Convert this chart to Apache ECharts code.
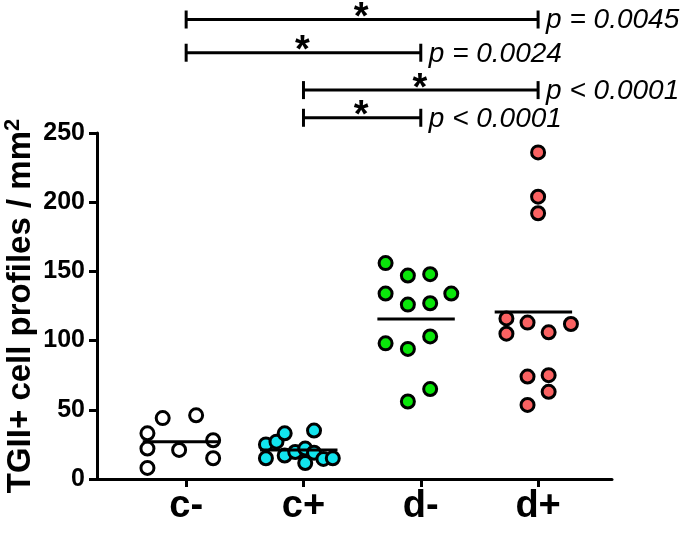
<!DOCTYPE html>
<html>
<head>
<meta charset="utf-8">
<script src="https://cdn.jsdelivr.net/npm/echarts@6/dist/echarts.min.js"></script>
<style>html,body{margin:0;padding:0;background:#fff}#c{width:685px;height:535px}</style>
</head>
<body>
<div id="c"></div>
<script>
// ---- data ----
const categories = ['c-', 'c+', 'd-', 'd+'];
const yTicks = [0, 50, 100, 150, 200, 250];
const cMinusValues = [33, 22, 8, 44, 21, 46, 28, 15];
const cMinusJitter = [-0.33, -0.33, -0.33, -0.20, -0.06, 0.085, 0.23, 0.23];
const cPlusValues = [25, 15, 27, 33, 17, 19.5, 22, 11.5, 35, 19, 14.5, 15];
const cPlusJitter = [-0.32, -0.32, -0.23, -0.16, -0.16, -0.07, 0.015, 0.015, 0.09, 0.09, 0.17, 0.25];
const dMinusValues = [156, 147, 148, 134, 126, 127, 134, 98, 94, 103, 56, 65];
const dMinusJitter = [-0.30, -0.11, 0.08, -0.30, -0.11, 0.08, 0.26, -0.30, -0.11, 0.08, -0.11, 0.08];
const dPlusValues = [236, 204, 192, 116, 105, 113, 106, 112, 74, 75, 63, 53.5];
const dPlusJitter = [0, 0, 0, -0.27, -0.27, -0.09, 0.09, 0.28, -0.09, 0.09, 0.09, -0.09];
const meanValues = [27, 21, 115.6, 120.7];
const sigFrom = [1, 1, 2, 2];
const sigTo = [4, 3, 4, 3];
const sigLevel = [332, 308, 281, 261];
const sigText = ['p = 0.0045', 'p = 0.0024', 'p < 0.0001', 'p < 0.0001'];

// ---- styles ----
const FONT = '"Liberation Sans", Arial, sans-serif';
const groupColors = ['#ffffff', '#12e4ee', '#0ae60a', '#fa6262'];
const groups = [
  [cMinusValues, cMinusJitter],
  [cPlusValues, cPlusJitter],
  [dMinusValues, dMinusJitter],
  [dPlusValues, dPlusJitter]
];
const lineSpan = [-0.37, 0.29];

const chart = echarts.init(document.getElementById('c'), null, {renderer: 'canvas'});

const scatterSeries = groups.map((g, gi) => ({
  type: 'scatter',
  name: categories[gi],
  symbol: 'circle',
  symbolSize: 13,
  z: 2,
  itemStyle: {color: groupColors[gi], borderColor: '#000', borderWidth: 3, opacity: 1},
  emphasis: {disabled: true},
  data: g[0].map((v, i) => [gi + 1 + g[1][i], v])
}));

const meanSeries = {
  type: 'custom',
  z: 5,
  clip: false,
  data: meanValues.map((v, i) => [i + 1, v]),
  renderItem: function (params, api) {
    const x = api.value(0), y = api.value(1);
    const a = api.coord([x + lineSpan[0], y]);
    const b = api.coord([x + lineSpan[1], y]);
    return {type: 'line', shape: {x1: a[0], y1: a[1], x2: b[0], y2: b[1]},
      style: {stroke: '#000', lineWidth: 3}};
  }
};

const sigSeries = {
  type: 'custom',
  z: 5,
  clip: false,
  data: sigFrom.map((f, i) => [f, sigTo[i], sigLevel[i]]),
  renderItem: function (params, api) {
    const i = params.dataIndex;
    const p1 = api.coord([api.value(0), api.value(2)]);
    const p2 = api.coord([api.value(1), api.value(2)]);
    const cap = 9;
    const st = {stroke: '#000', lineWidth: 3};
    return {type: 'group', children: [
      {type: 'line', shape: {x1: p1[0], y1: p1[1], x2: p2[0], y2: p2[1]}, style: st},
      {type: 'line', shape: {x1: p1[0], y1: p1[1] - cap, x2: p1[0], y2: p1[1] + cap}, style: st},
      {type: 'line', shape: {x1: p2[0], y1: p2[1] - cap, x2: p2[0], y2: p2[1] + cap}, style: st},
      {type: 'text', x: (p1[0] + p2[0]) / 2 - 1, y: p1[1] - 20,
        style: {text: '*', font: 'bold 38px ' + FONT, fill: '#000', align: 'center', verticalAlign: 'top'}},
      {type: 'text', x: p2[0] + 8, y: p1[1] + 1,
        style: {text: sigText[i], font: 'italic 28px ' + FONT, fill: '#000', align: 'left', verticalAlign: 'middle'}}
    ]};
  }
};

chart.setOption({
  animation: false,
  backgroundColor: '#fff',
  grid: {left: 97, right: 73, top: 133, bottom: 56, containLabel: false, outerBoundsMode: 'none'},
  xAxis: {
    type: 'value',
    min: 0.24,
    max: 4.63,
    axisLine: {show: true, lineStyle: {color: '#000', width: 3}},
    axisTick: {show: true, length: 8, lineStyle: {color: '#000', width: 3}, customValues: [1, 2, 3, 4]},
    axisLabel: {
      customValues: [1, 2, 3, 4],
      formatter: v => categories[Math.round(v) - 1],
      color: '#000', fontFamily: FONT, fontWeight: 'bold', fontSize: 38, margin: 9
    },
    splitLine: {show: false}
  },
  yAxis: {
    type: 'value',
    min: 0,
    max: 250,
    interval: 50,
    name: 'TGII+ cell profiles / mm{sup|2}',
    nameLocation: 'middle',
    nameGap: 57,
    nameMoveOverlap: false,
    nameTextStyle: {
      color: '#000', fontFamily: FONT, fontWeight: 'bold', fontSize: 33, lineHeight: 38,
      rich: {sup: {color: '#000', fontFamily: FONT, fontWeight: 'bold', fontSize: 22, verticalAlign: 'top', lineHeight: 38}}
    },
    axisLine: {show: true, lineStyle: {color: '#000', width: 3}},
    axisTick: {show: true, length: 8, lineStyle: {color: '#000', width: 3}},
    axisLabel: {
      color: '#000', fontFamily: FONT, fontWeight: 'bold', fontSize: 25, margin: 12,
      formatter: v => (yTicks.indexOf(v) >= 0 ? String(v) : '')
    },
    splitLine: {show: false}
  },
  series: [...scatterSeries, meanSeries, sigSeries]
});
</script>
</body>
</html>
